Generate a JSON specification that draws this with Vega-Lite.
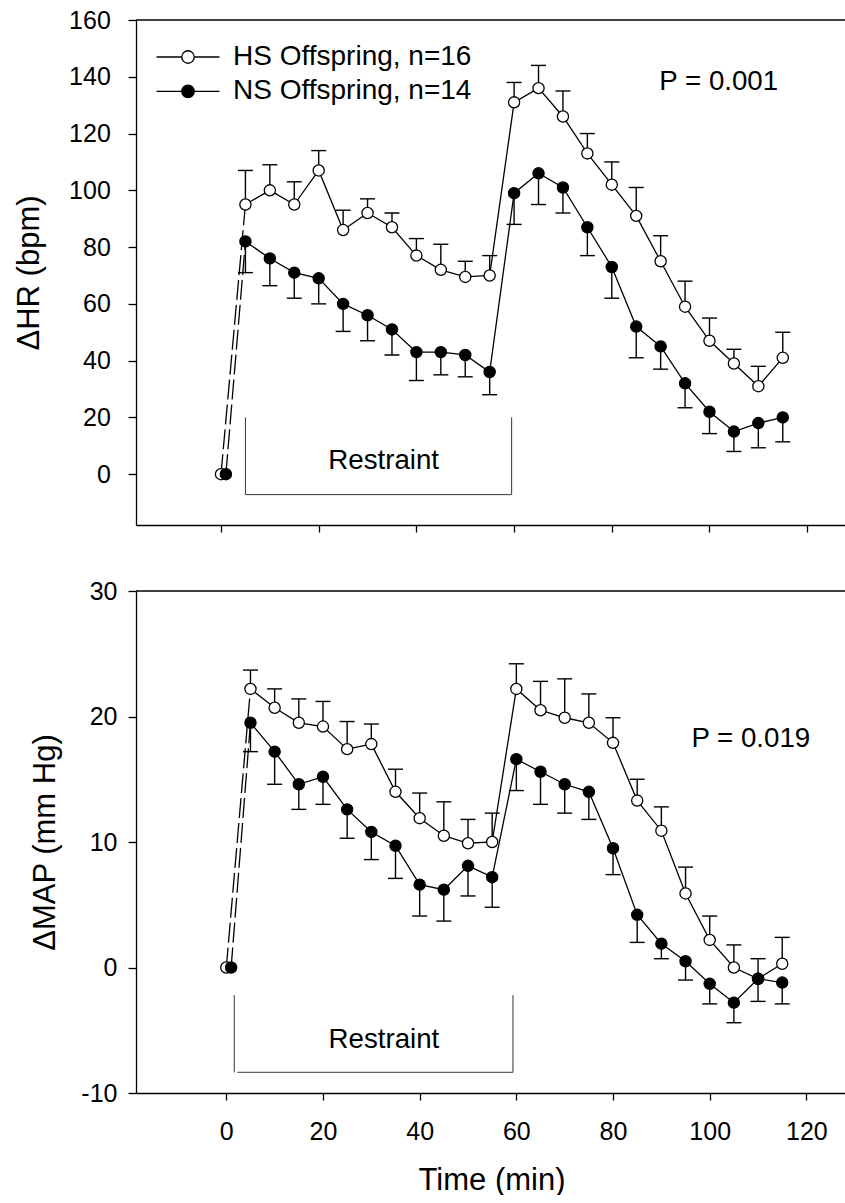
{
  "$schema": "https://vega.github.io/schema/vega-lite/v6.json",
  "padding": {"left": 13, "top": 8, "right": 0, "bottom": 0},
  "background": "white",
  "config": {
    "font": "Liberation Sans",
    "view": {"stroke": null},
    "axis": {
      "grid": false, "domainColor": "black", "domainWidth": 1.3,
      "tickColor": "black", "tickWidth": 1.3, "tickSize": 8,
      "labelFont": "Liberation Sans", "labelFontSize": 25, "labelColor": "black",
      "titleFont": "Liberation Sans", "titleFontSize": 31, "titleFontWeight": "normal", "titleColor": "black"
    }
  },
  "datasets": {
    "hr": [
      {"time": 0, "group": "HS Offspring, n=16", "value": 0, "bar": null},
      {"time": 5, "group": "HS Offspring, n=16", "value": 95, "bar": 107},
      {"time": 10, "group": "HS Offspring, n=16", "value": 100, "bar": 109},
      {"time": 15, "group": "HS Offspring, n=16", "value": 95, "bar": 103},
      {"time": 20, "group": "HS Offspring, n=16", "value": 107, "bar": 114},
      {"time": 25, "group": "HS Offspring, n=16", "value": 86, "bar": 93},
      {"time": 30, "group": "HS Offspring, n=16", "value": 92, "bar": 97},
      {"time": 35, "group": "HS Offspring, n=16", "value": 87, "bar": 92},
      {"time": 40, "group": "HS Offspring, n=16", "value": 77, "bar": 83},
      {"time": 45, "group": "HS Offspring, n=16", "value": 72, "bar": 81},
      {"time": 50, "group": "HS Offspring, n=16", "value": 69.5, "bar": 75},
      {"time": 55, "group": "HS Offspring, n=16", "value": 70, "bar": 77},
      {"time": 60, "group": "HS Offspring, n=16", "value": 131, "bar": 138},
      {"time": 65, "group": "HS Offspring, n=16", "value": 136, "bar": 144},
      {"time": 70, "group": "HS Offspring, n=16", "value": 126, "bar": 135},
      {"time": 75, "group": "HS Offspring, n=16", "value": 113, "bar": 120},
      {"time": 80, "group": "HS Offspring, n=16", "value": 102, "bar": 110},
      {"time": 85, "group": "HS Offspring, n=16", "value": 91, "bar": 101},
      {"time": 90, "group": "HS Offspring, n=16", "value": 75, "bar": 84},
      {"time": 95, "group": "HS Offspring, n=16", "value": 59, "bar": 68},
      {"time": 100, "group": "HS Offspring, n=16", "value": 47, "bar": 55},
      {"time": 105, "group": "HS Offspring, n=16", "value": 39, "bar": 44},
      {"time": 110, "group": "HS Offspring, n=16", "value": 31, "bar": 38},
      {"time": 115, "group": "HS Offspring, n=16", "value": 41, "bar": 50},
      {"time": 1, "group": "NS Offspring, n=14", "value": 0, "bar": null},
      {"time": 5, "group": "NS Offspring, n=14", "value": 82, "bar": 71},
      {"time": 10, "group": "NS Offspring, n=14", "value": 76, "bar": 66.4},
      {"time": 15, "group": "NS Offspring, n=14", "value": 71, "bar": 62},
      {"time": 20, "group": "NS Offspring, n=14", "value": 69, "bar": 60},
      {"time": 25, "group": "NS Offspring, n=14", "value": 60, "bar": 50.3},
      {"time": 30, "group": "NS Offspring, n=14", "value": 56, "bar": 47},
      {"time": 35, "group": "NS Offspring, n=14", "value": 51, "bar": 42},
      {"time": 40, "group": "NS Offspring, n=14", "value": 43, "bar": 33},
      {"time": 45, "group": "NS Offspring, n=14", "value": 43, "bar": 35},
      {"time": 50, "group": "NS Offspring, n=14", "value": 42, "bar": 34.3},
      {"time": 55, "group": "NS Offspring, n=14", "value": 36, "bar": 28},
      {"time": 60, "group": "NS Offspring, n=14", "value": 99, "bar": 88},
      {"time": 65, "group": "NS Offspring, n=14", "value": 106, "bar": 95},
      {"time": 70, "group": "NS Offspring, n=14", "value": 101, "bar": 92},
      {"time": 75, "group": "NS Offspring, n=14", "value": 87, "bar": 77},
      {"time": 80, "group": "NS Offspring, n=14", "value": 73, "bar": 62},
      {"time": 85, "group": "NS Offspring, n=14", "value": 52, "bar": 41},
      {"time": 90, "group": "NS Offspring, n=14", "value": 45, "bar": 37},
      {"time": 95, "group": "NS Offspring, n=14", "value": 32, "bar": 23.4},
      {"time": 100, "group": "NS Offspring, n=14", "value": 22, "bar": 14.3},
      {"time": 105, "group": "NS Offspring, n=14", "value": 15, "bar": 8},
      {"time": 110, "group": "NS Offspring, n=14", "value": 18, "bar": 9.3},
      {"time": 115, "group": "NS Offspring, n=14", "value": 20, "bar": 11.4}
    ],
    "map": [
      {"time": 0, "group": "HS Offspring, n=16", "value": 0, "bar": null},
      {"time": 5, "group": "HS Offspring, n=16", "value": 22.2, "bar": 23.7},
      {"time": 10, "group": "HS Offspring, n=16", "value": 20.7, "bar": 22.2},
      {"time": 15, "group": "HS Offspring, n=16", "value": 19.5, "bar": 21.4},
      {"time": 20, "group": "HS Offspring, n=16", "value": 19.2, "bar": 21.2},
      {"time": 25, "group": "HS Offspring, n=16", "value": 17.4, "bar": 19.6},
      {"time": 30, "group": "HS Offspring, n=16", "value": 17.8, "bar": 19.4},
      {"time": 35, "group": "HS Offspring, n=16", "value": 14.0, "bar": 15.8},
      {"time": 40, "group": "HS Offspring, n=16", "value": 11.9, "bar": 13.9},
      {"time": 45, "group": "HS Offspring, n=16", "value": 10.5, "bar": 13.2},
      {"time": 50, "group": "HS Offspring, n=16", "value": 9.9, "bar": 11.8},
      {"time": 55, "group": "HS Offspring, n=16", "value": 10.0, "bar": 12.3},
      {"time": 60, "group": "HS Offspring, n=16", "value": 22.2, "bar": 24.2},
      {"time": 65, "group": "HS Offspring, n=16", "value": 20.5, "bar": 22.8},
      {"time": 70, "group": "HS Offspring, n=16", "value": 19.9, "bar": 23.0},
      {"time": 75, "group": "HS Offspring, n=16", "value": 19.5, "bar": 21.8},
      {"time": 80, "group": "HS Offspring, n=16", "value": 17.9, "bar": 19.9},
      {"time": 85, "group": "HS Offspring, n=16", "value": 13.3, "bar": 15.0},
      {"time": 90, "group": "HS Offspring, n=16", "value": 10.9, "bar": 12.8},
      {"time": 95, "group": "HS Offspring, n=16", "value": 5.9, "bar": 8.0},
      {"time": 100, "group": "HS Offspring, n=16", "value": 2.2, "bar": 4.1},
      {"time": 105, "group": "HS Offspring, n=16", "value": 0.0, "bar": 1.8},
      {"time": 110, "group": "HS Offspring, n=16", "value": -0.9, "bar": 0.7},
      {"time": 115, "group": "HS Offspring, n=16", "value": 0.3, "bar": 2.4},
      {"time": 1, "group": "NS Offspring, n=14", "value": 0, "bar": null},
      {"time": 5, "group": "NS Offspring, n=14", "value": 19.5, "bar": 17.2},
      {"time": 10, "group": "NS Offspring, n=14", "value": 17.2, "bar": 14.6},
      {"time": 15, "group": "NS Offspring, n=14", "value": 14.6, "bar": 12.6},
      {"time": 20, "group": "NS Offspring, n=14", "value": 15.2, "bar": 13.0},
      {"time": 25, "group": "NS Offspring, n=14", "value": 12.6, "bar": 10.3},
      {"time": 30, "group": "NS Offspring, n=14", "value": 10.8, "bar": 8.6},
      {"time": 35, "group": "NS Offspring, n=14", "value": 9.7, "bar": 7.1},
      {"time": 40, "group": "NS Offspring, n=14", "value": 6.6, "bar": 4.1},
      {"time": 45, "group": "NS Offspring, n=14", "value": 6.2, "bar": 3.7},
      {"time": 50, "group": "NS Offspring, n=14", "value": 8.1, "bar": 5.7},
      {"time": 55, "group": "NS Offspring, n=14", "value": 7.2, "bar": 4.8},
      {"time": 60, "group": "NS Offspring, n=14", "value": 16.6, "bar": 14.1},
      {"time": 65, "group": "NS Offspring, n=14", "value": 15.6, "bar": 13.0},
      {"time": 70, "group": "NS Offspring, n=14", "value": 14.6, "bar": 12.3},
      {"time": 75, "group": "NS Offspring, n=14", "value": 14.0, "bar": 11.8},
      {"time": 80, "group": "NS Offspring, n=14", "value": 9.5, "bar": 7.4},
      {"time": 85, "group": "NS Offspring, n=14", "value": 4.2, "bar": 2.0},
      {"time": 90, "group": "NS Offspring, n=14", "value": 1.9, "bar": 0.7},
      {"time": 95, "group": "NS Offspring, n=14", "value": 0.5, "bar": -1.0},
      {"time": 100, "group": "NS Offspring, n=14", "value": -1.3, "bar": -2.9},
      {"time": 105, "group": "NS Offspring, n=14", "value": -2.8, "bar": -4.4},
      {"time": 110, "group": "NS Offspring, n=14", "value": -0.9, "bar": -2.7},
      {"time": 115, "group": "NS Offspring, n=14", "value": -1.2, "bar": -2.9}
    ]
  },
  "spacing": 46,
  "resolve": {"scale": {"x": "independent", "y": "independent", "fill": "independent"}, "legend": {"fill": "independent"}},
  "vconcat": [
    {
      "width": 711,
      "height": 505,
      "layer": [
        {
          "data": {"values": [{}]},
          "mark": {"type": "rule", "color": "black", "strokeWidth": 1.3},
          "encoding": {
            "x": {"datum": -17.4, "type": "quantitative", "scale": {"domain": [-17.4, 128.15], "nice": false, "zero": false},
                  "axis": {"values": [0, 20, 40, 60, 80, 100, 120], "labels": false, "tickSize": 7, "title": null}},
            "x2": {"datum": 128.15},
            "y": {"datum": 160, "type": "quantitative", "scale": {"domain": [-17.9, 160], "nice": false, "zero": false},
                  "axis": {"values": [0, 20, 40, 60, 80, 100, 120, 140, 160], "title": "ΔHR (bpm)", "labelPadding": 17.7, "titlePadding": 22.6}}
          }
        },
        {
          "data": {"values": [{"note": "Restraint", "at": 33.3, "base": 1.76}, {"note": "P = 0.001", "at": 101.9, "base": 135.4}]},
          "mark": {"type": "text", "fontSize": 27.7, "align": "center", "baseline": "alphabetic", "fill": "black"},
          "encoding": {"x": {"field": "at", "type": "quantitative"}, "y": {"field": "base", "type": "quantitative"}, "text": {"field": "note", "type": "nominal"}}
        },
        {
          "data": {"values": [
            {"xa": 5, "xb": 5, "ya": 20, "yb": -7.2},
            {"xa": 5, "xb": 59.5, "ya": -7.2, "yb": -7.2},
            {"xa": 59.5, "xb": 59.5, "ya": 20, "yb": -7.2}
          ]},
          "mark": {"type": "rule", "color": "#333333", "strokeWidth": 1},
          "encoding": {"x": {"field": "xa", "type": "quantitative"}, "x2": {"field": "xb"}, "y": {"field": "ya", "type": "quantitative"}, "y2": {"field": "yb"}}
        },
        {
          "data": {"name": "hr"},
          "layer": [
            {
              "transform": [{"filter": "datum.bar != null"}],
              "mark": {"type": "rule", "color": "black", "strokeWidth": 1.4},
              "encoding": {"x": {"field": "time", "type": "quantitative"}, "y": {"field": "value", "type": "quantitative"}, "y2": {"field": "bar"}}
            },
            {
              "transform": [{"filter": "datum.bar != null"}],
              "mark": {"type": "tick", "orient": "horizontal", "color": "black", "size": 15, "thickness": 1.4, "opacity": 1},
              "encoding": {"x": {"field": "time", "type": "quantitative"}, "y": {"field": "bar", "type": "quantitative"}}
            },
            {
              "transform": [{"filter": "datum.time >= 5"}],
              "mark": {"type": "line", "color": "black", "strokeWidth": 1.3},
              "encoding": {"x": {"field": "time", "type": "quantitative"}, "y": {"field": "value", "type": "quantitative"}, "detail": {"field": "group"}}
            },
            {
              "transform": [{"filter": "datum.time <= 5"}],
              "mark": {"type": "line", "color": "black", "strokeWidth": 1.3, "strokeDash": [20, 5]},
              "encoding": {"x": {"field": "time", "type": "quantitative"}, "y": {"field": "value", "type": "quantitative"}, "detail": {"field": "group"}}
            },
            {
              "mark": {"type": "point", "filled": true, "stroke": "black", "strokeWidth": 1.3, "size": 125, "opacity": 1},
              "encoding": {
                "x": {"field": "time", "type": "quantitative"}, "y": {"field": "value", "type": "quantitative"},
                "fill": {"field": "group", "type": "nominal",
                         "scale": {"domain": ["HS Offspring, n=16", "NS Offspring, n=14"], "range": ["white", "black"]},
                         "legend": {"title": null, "orient": "none", "legendX": 35, "legendY": 20, "padding": 0,
                                    "symbolType": "M-1.97,0L-0.39,0M0.39,0L1.97,0M0.39,0A0.39,0.39,0,1,1,-0.39,0A0.39,0.39,0,1,1,0.39,0Z",
                                    "symbolSize": 1024, "symbolStrokeColor": "black", "symbolStrokeWidth": 1.3, "symbolOpacity": 1,
                                    "labelFontSize": 28, "labelColor": "black", "labelOffset": 28, "labelLimit": 0, "rowPadding": 3.3}}
              }
            }
          ]
        }
      ]
    },
    {
      "width": 711,
      "height": 502,
      "layer": [
        {
          "data": {"values": [{}]},
          "mark": {"type": "rule", "color": "black", "strokeWidth": 1.3},
          "encoding": {
            "x": {"datum": -18.68, "type": "quantitative", "scale": {"domain": [-18.68, 128.4], "nice": false, "zero": false},
                  "axis": {"values": [0, 20, 40, 60, 80, 100, 120], "tickSize": 7, "labelPadding": 19, "title": "Time (min)", "titlePadding": 21}},
            "x2": {"datum": 128.4},
            "y": {"datum": 30, "type": "quantitative", "scale": {"domain": [-10, 30], "nice": false, "zero": false},
                  "axis": {"values": [-10, 0, 10, 20, 30], "labelExpr": "'' + datum.value", "title": "ΔMAP (mm Hg)", "labelPadding": 11, "titlePadding": 18.9}}
          }
        },
        {
          "data": {"values": [{"note": "Restraint", "at": 32.6, "base": -6.4}, {"note": "P = 0.019", "at": 108.5, "base": 17.6}]},
          "mark": {"type": "text", "fontSize": 27.7, "align": "center", "baseline": "alphabetic", "fill": "black"},
          "encoding": {"x": {"field": "at", "type": "quantitative"}, "y": {"field": "base", "type": "quantitative"}, "text": {"field": "note", "type": "nominal"}}
        },
        {
          "data": {"values": [
            {"xa": 1.65, "xb": 1.65, "ya": -2.2, "yb": -8.35},
            {"xa": 2.3, "xb": 59.3, "ya": -8.35, "yb": -8.35},
            {"xa": 59.3, "xb": 59.3, "ya": -2.2, "yb": -8.35}
          ]},
          "mark": {"type": "rule", "color": "#333333", "strokeWidth": 1},
          "encoding": {"x": {"field": "xa", "type": "quantitative"}, "x2": {"field": "xb"}, "y": {"field": "ya", "type": "quantitative"}, "y2": {"field": "yb"}}
        },
        {
          "data": {"name": "map"},
          "layer": [
            {
              "transform": [{"filter": "datum.bar != null"}],
              "mark": {"type": "rule", "color": "black", "strokeWidth": 1.4},
              "encoding": {"x": {"field": "time", "type": "quantitative"}, "y": {"field": "value", "type": "quantitative"}, "y2": {"field": "bar"}}
            },
            {
              "transform": [{"filter": "datum.bar != null"}],
              "mark": {"type": "tick", "orient": "horizontal", "color": "black", "size": 15, "thickness": 1.4, "opacity": 1},
              "encoding": {"x": {"field": "time", "type": "quantitative"}, "y": {"field": "bar", "type": "quantitative"}}
            },
            {
              "transform": [{"filter": "datum.time >= 5"}],
              "mark": {"type": "line", "color": "black", "strokeWidth": 1.3},
              "encoding": {"x": {"field": "time", "type": "quantitative"}, "y": {"field": "value", "type": "quantitative"}, "detail": {"field": "group"}}
            },
            {
              "transform": [{"filter": "datum.time <= 5"}],
              "mark": {"type": "line", "color": "black", "strokeWidth": 1.3, "strokeDash": [20, 5]},
              "encoding": {"x": {"field": "time", "type": "quantitative"}, "y": {"field": "value", "type": "quantitative"}, "detail": {"field": "group"}}
            },
            {
              "mark": {"type": "point", "filled": true, "stroke": "black", "strokeWidth": 1.3, "size": 125, "opacity": 1},
              "encoding": {
                "x": {"field": "time", "type": "quantitative"}, "y": {"field": "value", "type": "quantitative"},
                "fill": {"field": "group", "type": "nominal",
                         "scale": {"domain": ["HS Offspring, n=16", "NS Offspring, n=14"], "range": ["white", "black"]},
                         "legend": null}
              }
            }
          ]
        }
      ]
    }
  ]
}
